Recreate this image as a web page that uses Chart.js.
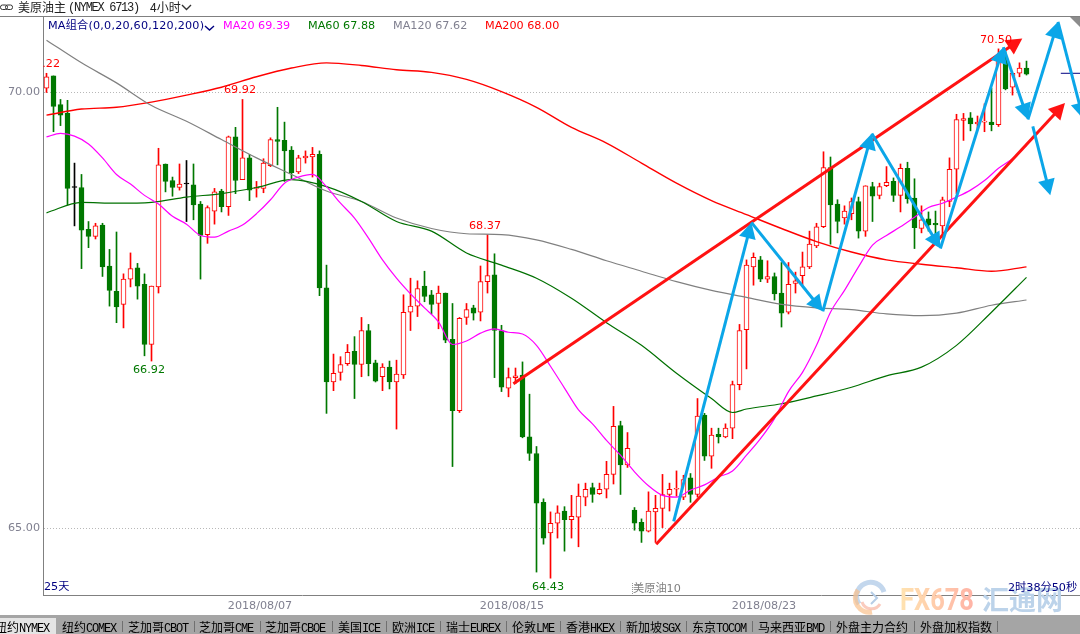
<!DOCTYPE html>
<html>
<head>
<meta charset="utf-8">
<title>美原油主</title>
<script src="https://cdn.jsdelivr.net/npm/chart.js@4/dist/chart.umd.min.js"></script>
<style>
  html, body { margin: 0; padding: 0; background: #fff; }
  #page { position: relative; width: 1080px; height: 634px; overflow: hidden; font-family: "DejaVu Sans", "Noto Sans CJK SC", sans-serif; font-size: 11.2px; }
  #chart { position: absolute; left: 0; top: 0; }
  .txt { position: absolute; white-space: nowrap; line-height: 14px; }
  .cn { font-family: "Noto Sans CJK SC", sans-serif; font-size: 12px; }
  .mono { font-family: "Liberation Mono", monospace; font-size: 12px; letter-spacing: -1.3px; }
  #tabs { position: absolute; left: 0; top: 615px; width: 1080px; height: 19px; background: #a5a5a5; overflow: hidden; }
  #tabs .sel { position: absolute; left: 0; top: 3px; width: 56px; height: 16px; background: #e4e4e4; }
  #tabs .tab { position: absolute; top: 4px; font-family: "Noto Sans CJK SC", sans-serif; font-size: 12px; line-height: 15px; color: #000; white-space: nowrap; }
  #tabs .tab span { font-family: "Liberation Mono", monospace; font-size: 12px; letter-spacing: -1.2px; }
  #tabs .sep { position: absolute; top: 6px; width: 1px; height: 11px; background: #707070; }
  #corner { position: absolute; right: 0; top: 17px; width: 0; height: 0; border-top: 10px solid #8c8c8c; border-left: 10px solid transparent; }
  svg.abs { position: absolute; left: 0; top: 0; pointer-events: none; }
</style>
</head>
<body>
<div id="page">
  <canvas id="chart" width="1080" height="634"></canvas>

  <svg class="abs" width="1080" height="634">
    <rect x="0.5" y="5" width="7" height="4.5" rx="2" fill="none" stroke="#333"/>
    <rect x="5.5" y="5" width="7" height="4.5" rx="2" fill="none" stroke="#333"/>
    <polyline points="182,5 186.5,9.5 191,5" fill="none" stroke="#333" stroke-width="1.4"/>
    <polyline points="205,26 209.5,30 214,26" fill="none" stroke="#000080" stroke-width="1.4"/>
    <line x1="632.5" y1="583" x2="632.5" y2="595" stroke="#999" stroke-dasharray="1,1"/>
    <!-- watermark -->
    <defs>
      <linearGradient id="fxGrad" x1="0" x2="1" y1="0" y2="0">
        <stop offset="0" stop-color="#ffe3b0"/>
        <stop offset="1" stop-color="#ffb3a6"/>
      </linearGradient>
    </defs>
    <path d="M 859 604 A 14 14 0 1 1 884 592" fill="none" stroke="#a9c6e6" stroke-width="5" opacity="0.7"/>
    <path d="M 858 590 A 14 14 0 0 0 872 612" fill="none" stroke="#f9c08c" stroke-width="5" opacity="0.7"/>
    <path d="M 862 602 A 10 10 0 0 0 880 604" fill="none" stroke="#f7a893" stroke-width="3" opacity="0.6"/>
    <path d="M 871 592 L 877 598 L 871 604" fill="none" stroke="#b6cde6" stroke-width="2"/>
    <text x="900" y="610" font-family="Roboto, 'Liberation Sans', sans-serif" font-weight="bold" font-size="31" textLength="74" lengthAdjust="spacingAndGlyphs" fill="url(#fxGrad)">FX678</text>
    <text x="982" y="610" font-family="'Noto Sans CJK SC', sans-serif" font-weight="bold" font-size="27" fill="#bcd3ea">汇通网</text>
  </svg>

  <div class="txt cn" style="left:18px;top:0px;color:#222">美原油主</div>
  <div class="txt mono" style="left:68px;top:1px;color:#222">(NYMEX 6713)</div>
  <div class="txt cn" style="left:150px;top:0px;color:#222">4小时</div>

  <div class="txt" style="left:48px;top:19px;color:#000080;letter-spacing:0.2px">MA组合(0,0,20,60,120,200)</div>
  <div class="txt" style="left:223px;top:19px;color:#ff00ff">MA20 69.39</div>
  <div class="txt" style="left:308px;top:19px;color:#007800">MA60 67.88</div>
  <div class="txt" style="left:393px;top:19px;color:#808090">MA120 67.62</div>
  <div class="txt" style="left:485px;top:19px;color:#ff0000">MA200 68.00</div>

  <div id="corner"></div>
  <div class="txt" style="left:44px;top:580px;color:#000080">25天</div>
  <div class="txt" style="left:633px;top:582px;color:#808080">美原油10</div>
  <div class="txt" style="left:1008px;top:581px;color:#000080">2时38分50秒</div>

  <div id="tabs"><div class="sel"></div></div>
</div>

<script>
// 4 hour candles, index 0 is the leftmost one
const opens = [
  70.05, 70.19, 69.86, 69.76, 68.91, 68.91, 68.43, 68.35, 68.48, 68.01,
  67.72, 67.57, 67.86, 67.99, 67.80, 67.11, 67.77, 69.18, 68.99, 68.91,
  68.95, 68.94, 68.72, 68.37, 68.64, 68.87, 68.69, 69.49, 69.00, 69.25,
  68.90, 68.90, 69.16, 69.46, 69.45, 69.34, 69.09, 69.25, 69.26, 69.29,
  67.76, 66.68, 66.79, 66.89, 67.03, 66.88, 67.27, 66.90, 66.74, 66.85,
  66.68, 66.76, 67.48, 67.55, 67.78, 67.68, 67.58, 67.70, 67.17, 66.35,
  67.42, 67.53, 67.48, 67.83, 67.91, 67.27, 66.61, 66.73, 66.76, 66.05,
  65.86, 65.30, 64.95, 65.06, 65.20, 65.10, 65.13, 65.36, 65.47, 65.40,
  65.45, 65.62, 66.18, 65.73, 65.21, 65.07, 64.97, 65.19, 65.23, 65.39,
  65.45, 65.36, 65.58, 65.39, 66.30, 65.83, 66.08, 66.05, 66.15, 66.65,
  67.28, 68.00, 68.08, 67.86, 67.89, 67.70, 67.48, 67.81, 67.90, 68.00,
  68.24, 68.46, 69.14, 68.72, 68.56, 68.61, 68.75, 68.41, 68.92, 68.82,
  68.93, 68.98, 68.82, 69.13, 68.79, 68.44, 68.55, 68.50, 68.47, 68.75,
  69.12, 69.68, 69.71, 69.64, 69.66, 69.66, 69.63, 70.39, 70.06, 70.22,
  70.28
];
const closes = [
  70.18, 69.84, 69.74, 68.90, 68.91, 68.42, 68.35, 68.47, 68.00, 67.73,
  67.54, 67.86, 67.98, 67.78, 67.11, 67.78, 69.17, 68.98, 68.91, 68.95,
  68.95, 68.71, 68.36, 68.68, 68.86, 68.69, 69.49, 68.99, 69.25, 68.88,
  68.91, 69.19, 69.46, 69.44, 69.33, 69.08, 69.25, 69.27, 69.29, 67.76,
  66.68, 66.78, 66.88, 67.02, 66.88, 67.27, 66.89, 66.69, 66.85, 66.68,
  66.77, 67.48, 67.55, 67.75, 67.66, 67.57, 67.70, 67.16, 66.35, 67.41,
  67.51, 67.47, 67.83, 67.90, 67.27, 66.62, 66.73, 66.75, 66.05, 65.86,
  65.29, 64.89, 65.06, 65.18, 65.10, 65.14, 65.37, 65.45, 65.39, 65.45,
  65.62, 66.17, 65.73, 65.92, 65.06, 64.97, 65.20, 65.23, 65.39, 65.45,
  65.46, 65.56, 65.39, 66.29, 65.83, 66.07, 66.05, 66.15, 66.65, 67.27,
  68.02, 68.11, 67.86, 67.89, 67.69, 67.47, 67.80, 67.84, 68.00, 68.26,
  68.46, 69.14, 68.71, 68.52, 68.64, 68.75, 68.41, 68.93, 68.81, 68.92,
  68.97, 68.82, 69.13, 68.78, 68.45, 68.54, 68.48, 68.48, 68.77, 69.12,
  69.69, 69.70, 69.64, 69.66, 69.67, 69.63, 70.39, 70.04, 70.22, 70.28,
  70.21
];
const highs = [
  70.22, 70.19, 69.92, 69.91, 69.19, 69.06, 68.52, 68.50, 68.50, 68.20,
  68.40, 67.92, 68.16, 68.04, 67.92, 67.78, 69.36, 69.18, 69.03, 69.18,
  69.22, 69.18, 68.75, 68.70, 68.90, 68.89, 69.50, 69.60, 69.92, 69.29,
  68.98, 69.24, 69.48, 69.83, 69.66, 69.38, 69.28, 69.33, 69.37, 69.33,
  68.02, 67.00, 66.97, 67.11, 67.20, 67.42, 67.34, 66.93, 66.89, 66.92,
  66.93, 67.68, 67.87, 67.84, 67.95, 67.73, 67.78, 67.70, 67.58, 67.42,
  67.58, 67.56, 68.01, 68.37, 68.15, 67.33, 66.84, 66.84, 66.91, 66.54,
  65.94, 65.34, 65.19, 65.26, 65.25, 65.38, 65.51, 65.52, 65.52, 65.52,
  65.77, 66.40, 66.23, 66.10, 65.24, 65.11, 65.42, 65.38, 65.62, 65.52,
  65.66, 65.61, 65.63, 66.49, 66.32, 66.15, 66.15, 66.20, 66.69, 67.34,
  68.08, 68.16, 68.12, 68.07, 67.93, 68.05, 68.05, 67.94, 68.17, 68.41,
  68.50, 69.32, 69.26, 68.77, 68.70, 68.79, 68.80, 68.93, 68.97, 68.96,
  69.15, 69.02, 69.18, 69.20, 69.01, 68.70, 68.63, 68.64, 68.80, 69.25,
  69.75, 69.76, 69.77, 69.73, 69.87, 70.05, 70.50, 70.47, 70.22, 70.34,
  70.36
];
const lows = [
  70.00, 69.55, 69.62, 68.71, 68.47, 67.98, 68.22, 68.32, 67.89, 67.55,
  67.36, 67.30, 67.77, 67.63, 66.98, 66.92, 67.70, 68.86, 68.81, 68.88,
  68.52, 68.54, 67.86, 68.27, 68.49, 68.63, 68.59, 68.84, 69.00, 68.76,
  68.80, 68.85, 69.15, 69.17, 68.98, 69.01, 69.07, 69.19, 69.03, 67.67,
  66.32, 66.58, 66.70, 66.87, 66.49, 66.74, 66.75, 66.68, 66.58, 66.60,
  66.14, 66.72, 67.27, 67.43, 67.60, 67.46, 67.29, 67.13, 65.71, 66.33,
  67.34, 67.39, 67.38, 67.70, 66.73, 66.57, 66.51, 66.66, 66.04, 65.78,
  64.50, 64.82, 64.43, 64.89, 64.74, 64.89, 64.79, 65.26, 65.30, 65.39,
  65.35, 65.51, 65.39, 65.70, 64.98, 64.84, 64.96, 64.84, 65.01, 65.20,
  65.37, 65.33, 65.30, 65.36, 65.78, 65.69, 65.98, 66.04, 66.03, 66.59,
  66.83, 67.79, 67.83, 67.82, 67.62, 67.31, 67.46, 67.70, 67.79, 67.98,
  68.22, 68.45, 68.26, 68.39, 68.49, 68.54, 68.33, 68.35, 68.52, 68.78,
  68.92, 68.75, 68.63, 68.73, 68.21, 68.39, 68.41, 68.31, 68.34, 68.69,
  68.84, 69.45, 69.56, 69.57, 69.55, 69.56, 69.61, 70.03, 69.97, 70.18,
  70.20
];

// moving averages, read every few candles
const ma20Index = [
  0, 2, 4, 6, 8, 10, 12, 14, 16, 18, 20, 22, 24, 26, 28, 30, 32, 34, 36, 38, 40, 42, 44, 46,
  48, 50, 52, 54, 56, 58, 60, 62, 64, 66, 68, 70, 72, 74, 76, 78, 80, 82, 84, 86, 88, 90, 92,
  94, 96, 98, 100, 102, 104, 106, 108, 110, 112, 114, 116, 118, 120, 122, 124, 126, 128, 130,
  132, 134, 136, 138, 140
];
const ma20 = [
  69.49, 69.53, 69.50, 69.41, 69.25, 69.06, 68.95, 68.82, 68.72, 68.58, 68.49, 68.36,
  68.34, 68.41, 68.48, 68.61, 68.77, 68.96, 69.03, 69.06, 68.92, 68.73, 68.56, 68.33,
  68.08, 67.87, 67.69, 67.53, 67.37, 67.11, 67.15, 67.24, 67.29, 67.25, 67.23, 67.10,
  66.86, 66.61, 66.36, 66.20, 66.01, 65.84, 65.65, 65.49, 65.38, 65.36, 65.44, 65.50,
  65.59, 65.66, 65.84, 66.03, 66.26, 66.57, 66.79, 67.10, 67.48, 67.73, 68.00, 68.25,
  68.36, 68.46, 68.57, 68.68, 68.73, 68.80, 68.88, 68.99, 69.13, 69.24, 69.39
];
const ma60Index = [
  0, 5, 10, 15, 20, 25, 30, 35, 40, 45, 50, 55, 60, 65, 70, 75, 80, 85, 90, 95, 98, 100,
  105, 110, 115, 120, 125, 130, 135, 140
];
const ma60 = [
  68.62, 68.74, 68.73, 68.74, 68.80, 68.84, 68.91, 69.00, 68.92, 68.75, 68.52, 68.41,
  68.16, 68.02, 67.87, 67.64, 67.36, 67.10, 66.78, 66.49, 66.33, 66.37,
  66.43, 66.52, 66.62, 66.75, 66.85, 67.10, 67.48, 67.88
];
const maIndex = [
  0, 5, 10, 15, 20, 25, 30, 35, 40, 45, 50, 55, 60, 65, 70, 75, 80, 85, 90, 95,
  100, 105, 110, 115, 120, 125, 130, 135, 140
];
const ma120 = [
  70.60, 70.34, 70.11, 69.85, 69.67, 69.46, 69.25, 69.06, 68.87, 68.75,
  68.56, 68.44, 68.38, 68.37, 68.31, 68.20, 68.07, 67.95, 67.83, 67.73,
  67.65, 67.57, 67.53, 67.51, 67.46, 67.44, 67.47, 67.56, 67.62
];
const ma200 = [
  69.74, 69.81, 69.83, 69.89, 69.97, 70.06, 70.18, 70.28, 70.34, 70.31,
  70.26, 70.23, 70.15, 70.01, 69.83, 69.60, 69.42, 69.19, 68.96, 68.76,
  68.60, 68.44, 68.29, 68.17, 68.08, 68.03, 67.99, 67.95, 68.00
];

// hand drawn trend arrows on the picture, as [index, price] points
const redArrows = [
  [[66.7, 66.66], [139.4, 70.62]],
  [[87.1, 64.82], [145.5, 69.88]]
];
const blueArrows = [
  [[89.6, 65.08], [100.7, 68.51], [110.9, 67.49], [117.9, 69.53], [127.7, 68.21],
   [136.7, 70.52], [140.2, 69.69], [144.5, 70.81], [148.1, 69.70]],
  [[140.9, 69.61], [143.4, 68.82]]
];

// current price marker at the right edge
const lastPriceIndex = [144.9, 148];
const lastPrice = [70.22, 70.22];

const priceTicks = [65, 70];
const dateIndex = [30.5, 66.5, 102.5];
const dateLabels = ["2018/08/07", "2018/08/15", "2018/08/23"];

// candles that get their extreme price printed
const highMarks = [0, 28, 63, 136];
const lowMarks = [15, 72];

const tabNames = ["纽约NYMEX", "纽约COMEX", "芝加哥CBOT", "芝加哥CME", "芝加哥CBOE", "美国ICE", "欧洲ICE", "瑞士EUREX",
  "伦敦LME", "香港HKEX", "新加坡SGX", "东京TOCOM", "马来西亚BMD", "外盘主力合约", "外盘加权指数"];
const tabLefts = [-5, 62, 128, 199, 265, 338, 392, 446, 512, 566, 626, 692, 758, 836, 920];
const tabSeps = [122, 194, 260, 332, 386, 440, 506, 560, 620, 686, 752, 830, 914, 997];

const UP = "#ff0000";
const DOWN = "#007800";
const FLAT = "#000000";

const candleColor = (i) => {
  if (closes[i] > opens[i]) return UP;
  if (closes[i] < opens[i]) return DOWN;
  return FLAT;
};

const tabs = document.getElementById("tabs");
tabNames.forEach((name, i) => {
  const el = document.createElement("div");
  el.className = "tab";
  el.style.left = tabLefts[i] + "px";
  el.innerHTML = name.replace(/[A-Z]+/, "<span>$&</span>");
  tabs.appendChild(el);
});
tabSeps.forEach((x) => {
  const el = document.createElement("div");
  el.className = "sep";
  el.style.left = x + "px";
  tabs.appendChild(el);
});

const maLine = (label, xs, ys, color, width) => ({
  type: "line",
  label: label,
  data: xs.map((x, i) => ({ x: x, y: ys[i] })),
  borderColor: color,
  borderWidth: width,
  pointRadius: 0,
  cubicInterpolationMode: "monotone",
  order: 1
});

const drawArrow = (ctx, scales, points, color) => {
  const px = points.map((p) => [scales.x.getPixelForValue(p[0]), scales.y.getPixelForValue(p[1])]);
  ctx.strokeStyle = color;
  ctx.fillStyle = color;
  ctx.lineWidth = 3;
  px.forEach((p, i) => {
    if (i === 0) return;
    const a = px[i - 1];
    const angle = Math.atan2(p[1] - a[1], p[0] - a[0]);
    ctx.beginPath();
    ctx.moveTo(a[0], a[1]);
    ctx.lineTo(p[0] - 10 * Math.cos(angle), p[1] - 10 * Math.sin(angle));
    ctx.stroke();
    ctx.save();
    ctx.translate(p[0], p[1]);
    ctx.rotate(angle);
    ctx.beginPath();
    ctx.moveTo(0, 0);
    ctx.lineTo(-16, -8.5);
    ctx.lineTo(-16, 8.5);
    ctx.closePath();
    ctx.fill();
    ctx.restore();
  });
};

const overlayPlugin = {
  id: "overlay",
  afterDatasetsDraw(chart) {
    const { ctx, scales, chartArea } = chart;
    ctx.save();
    ctx.beginPath();
    ctx.rect(chartArea.left, chartArea.top, chartArea.right - chartArea.left, chartArea.bottom - chartArea.top);
    ctx.clip();

    redArrows.forEach((a) => drawArrow(ctx, scales, a, "#ff1212"));
    blueArrows.forEach((a) => drawArrow(ctx, scales, a, "#0ba6e8"));

    ctx.font = '11.2px "DejaVu Sans"';
    ctx.textAlign = "center";
    ctx.textBaseline = "middle";
    highMarks.forEach((i) => {
      ctx.fillStyle = UP;
      ctx.fillText(highs[i].toFixed(2), scales.x.getPixelForValue(i) - 2.5, scales.y.getPixelForValue(highs[i]) - 9);
    });
    lowMarks.forEach((i) => {
      ctx.fillStyle = DOWN;
      ctx.fillText(lows[i].toFixed(2), scales.x.getPixelForValue(i) - 2.5, scales.y.getPixelForValue(lows[i]) + 9);
    });
    ctx.restore();

    // top frame line
    ctx.save();
    ctx.strokeStyle = "#808080";
    ctx.lineWidth = 1;
    ctx.beginPath();
    ctx.moveTo(0, 16.5);
    ctx.lineTo(chart.width, 16.5);
    ctx.stroke();
    ctx.restore();
  }
};

new Chart(document.getElementById("chart"), {
  type: "bar",
  data: {
    datasets: [
      maLine("MA20", ma20Index, ma20, "#ff00ff", 1.2),
      maLine("MA60", ma60Index, ma60, "#007000", 1.2),
      maLine("MA120", maIndex, ma120, "#808080", 1.2),
      maLine("MA200", maIndex, ma200, "#ff0000", 1.4),
      {
        type: "line",
        label: "last",
        data: lastPriceIndex.map((x, i) => ({ x: x, y: lastPrice[i] })),
        borderColor: "#000080",
        borderWidth: 1,
        pointRadius: 0,
        order: 1
      },
      {
        label: "body",
        data: opens.map((o, i) => ({ x: i, y: [o, closes[i]] })),
        backgroundColor: opens.map((o, i) => (closes[i] > o ? "#ffffff" : candleColor(i))),
        borderColor: opens.map((o, i) => candleColor(i)),
        borderWidth: 1,
        borderSkipped: false,
        barThickness: 5,
        minBarLength: 1,
        grouped: false,
        order: 2
      },
      {
        label: "wick",
        data: lows.map((l, i) => ({ x: i, y: [l, highs[i]] })),
        backgroundColor: lows.map((l, i) => candleColor(i)),
        borderWidth: 0,
        barThickness: 1,
        grouped: false,
        order: 3
      }
    ]
  },
  options: {
    responsive: false,
    animation: false,
    events: [],
    layout: { padding: { top: 16, left: 0, right: 0, bottom: 0 } },
    plugins: { legend: { display: false }, tooltip: { enabled: false } },
    scales: {
      x: {
        type: "linear",
        offset: false,
        min: -0.5,
        max: 147.643,
        afterFit: (scale) => { scale.height = 39; },
        afterBuildTicks: (scale) => { scale.ticks = dateIndex.map((v) => ({ value: v })); },
        grid: { display: false, offset: false, drawTicks: false },
        border: { color: "#808080", width: 1 },
        ticks: {
          autoSkip: false,
          maxRotation: 0,
          padding: 4,
          color: "#808090",
          font: { family: "DejaVu Sans", size: 11.2 },
          callback: (v) => dateLabels[dateIndex.indexOf(v)]
        }
      },
      y: {
        min: 64.237,
        max: 70.877,
        afterFit: (scale) => { scale.width = 43; },
        afterBuildTicks: (scale) => { scale.ticks = priceTicks.map((v) => ({ value: v })); },
        grid: { color: "#b8b8b8", drawTicks: false },
        border: { color: "#808080", width: 1, dash: [1, 2] },
        ticks: {
          padding: 3,
          color: "#808090",
          font: { family: "DejaVu Sans", size: 11.2 },
          callback: (v) => v.toFixed(2)
        }
      }
    }
  },
  plugins: [overlayPlugin]
});
</script>
</body>
</html>
